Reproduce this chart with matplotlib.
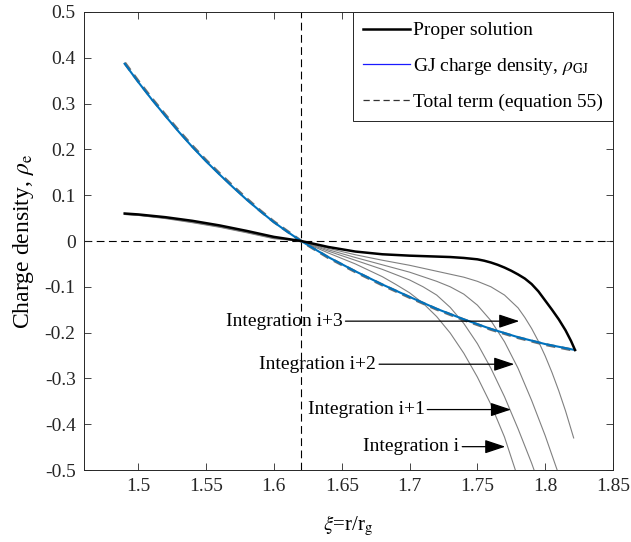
import numpy as np
import matplotlib
matplotlib.use("Agg")
import matplotlib.pyplot as plt
from matplotlib.lines import Line2D

# ── Data ──────────────────────────────────────────────────────────────────────
xi_gj  = [1.49, 1.50, 1.51, 1.52, 1.53, 1.54, 1.55, 1.56, 1.57, 1.58, 1.59, 1.60,
          1.61, 1.62, 1.64, 1.66, 1.68, 1.70, 1.72, 1.74, 1.76, 1.78, 1.80, 1.822]
rho_gj = [0.387, 0.347, 0.309, 0.273, 0.238, 0.205, 0.174, 0.145, 0.117, 0.090,
          0.065, 0.041, 0.020, 0.000, -0.035, -0.066, -0.095, -0.122, -0.148,
          -0.171, -0.192, -0.210, -0.225, -0.238]
# total term (equation 55) sits on top of the GJ curve
rho_tot = [0.389, 0.349, 0.311, 0.275, 0.240, 0.207, 0.176, 0.147, 0.119, 0.092,
           0.066, 0.042, 0.021, 0.000, -0.036, -0.067, -0.096, -0.123, -0.149,
           -0.172, -0.193, -0.211, -0.226, -0.239]

xi_prop  = [1.49, 1.50, 1.52, 1.54, 1.56, 1.58, 1.60, 1.62, 1.64, 1.66, 1.68, 1.70,
            1.72, 1.73, 1.74, 1.75, 1.755, 1.76, 1.765, 1.77, 1.775, 1.78, 1.785,
            1.79, 1.795, 1.80, 1.805, 1.81, 1.815, 1.819, 1.822]
rho_prop = [0.060, 0.058, 0.052, 0.044, 0.034, 0.022, 0.009, 0.000, -0.013, -0.023,
            -0.029, -0.032, -0.034, -0.035, -0.037, -0.040, -0.043, -0.047, -0.052,
            -0.058, -0.065, -0.073, -0.082, -0.094, -0.110, -0.130, -0.150, -0.171,
            -0.195, -0.218, -0.238]

# integration runs (i, i+1, i+2, i+3)
xi_int_i  = [1.49, 1.50, 1.52, 1.54, 1.56, 1.58, 1.60, 1.62, 1.64, 1.65, 1.66, 1.67,
             1.68, 1.69, 1.70, 1.71, 1.72, 1.73, 1.74, 1.75, 1.76, 1.77, 1.778, 1.782]
rho_int_i = [0.058, 0.056, 0.049, 0.040, 0.030, 0.018, 0.005, 0.000, -0.026, -0.038,
             -0.050, -0.064, -0.078, -0.095, -0.113, -0.136, -0.165, -0.201, -0.245,
             -0.297, -0.357, -0.428, -0.500, -0.540]

xi_int_i1  = [1.49, 1.50, 1.52, 1.54, 1.56, 1.58, 1.60, 1.62, 1.64, 1.66, 1.68, 1.70,
              1.71, 1.72, 1.73, 1.74, 1.75, 1.76, 1.77, 1.78, 1.79, 1.796]
rho_int_i1 = [0.058, 0.056, 0.050, 0.041, 0.031, 0.019, 0.006, 0.000, -0.022, -0.042,
              -0.062, -0.085, -0.100, -0.118, -0.145, -0.180, -0.224, -0.278, -0.340,
              -0.410, -0.485, -0.535]

xi_int_i2  = [1.49, 1.50, 1.52, 1.54, 1.56, 1.58, 1.60, 1.62, 1.64, 1.66, 1.68, 1.70,
              1.72, 1.73, 1.74, 1.75, 1.76, 1.77, 1.78, 1.79, 1.80, 1.81]
rho_int_i2 = [0.059, 0.057, 0.050, 0.042, 0.032, 0.020, 0.007, 0.000, -0.019, -0.036,
              -0.052, -0.068, -0.088, -0.100, -0.116, -0.140, -0.174, -0.220, -0.278,
              -0.348, -0.425, -0.510]

xi_int_i3  = [1.49, 1.50, 1.52, 1.54, 1.56, 1.58, 1.60, 1.62, 1.64, 1.66, 1.68, 1.70,
              1.72, 1.74, 1.75, 1.76, 1.77, 1.78, 1.785, 1.79, 1.795, 1.80, 1.805,
              1.81, 1.815, 1.821]
rho_int_i3 = [0.059, 0.057, 0.051, 0.043, 0.033, 0.021, 0.008, 0.000, -0.016, -0.030,
              -0.042, -0.053, -0.066, -0.079, -0.088, -0.100, -0.118, -0.146, -0.167,
              -0.191, -0.219, -0.251, -0.287, -0.327, -0.371, -0.430]

int_x = [xi_int_i, xi_int_i1, xi_int_i2, xi_int_i3]
int_y = [rho_int_i, rho_int_i1, rho_int_i2, rho_int_i3]

# annotation labels: (text, text end x, arrow tip x, y)
ann_labels = ["Integration i+3", "Integration i+2", "Integration i+1", "Integration i"]
ann_text_x = [1.6507, 1.6755, 1.711, 1.7368]
ann_tip_x  = [1.7809, 1.7772, 1.7748, 1.7706]
ann_y      = [-0.175, -0.269, -0.368, -0.449]

xi_ref  = 1.62
x_ticks = [1.5, 1.55, 1.6, 1.65, 1.7, 1.75, 1.8, 1.85]
y_ticks = [-0.5, -0.4, -0.3, -0.2, -0.1, 0, 0.1, 0.2, 0.3, 0.4, 0.5]

# ── Style ─────────────────────────────────────────────────────────────────────
plt.rcParams["font.family"] = ["Liberation Serif", "DejaVu Serif"]
plt.rcParams["mathtext.fontset"] = "stix"
BLUE   = "#0072BD"
GREY   = "#808080"
AXCOL  = "#262626"

fig = plt.figure(figsize=(6.31, 5.42), dpi=100)
ax = fig.add_axes([0.1331, 0.1328, 0.9715 - 0.1331, 0.9779 - 0.1328])

# reference lines
ax.axvline(xi_ref, color="black", lw=0.8, linestyle=(0, (7, 4)), zorder=1)
ax.axhline(0, color="black", lw=0.8, linestyle=(0, (7, 4)), zorder=1)

for xs, ys in zip(int_x, int_y):
    ax.plot(xs, ys, color=GREY, lw=0.8, zorder=2)

ax.plot(xi_gj, rho_tot, color="#707070", lw=2.2, linestyle=(0, (3, 2)), zorder=3)
ax.plot(xi_gj, rho_gj, color=BLUE, lw=1.5, zorder=4)
ax.plot(xi_prop, rho_prop, color="black", lw=1.8, zorder=5)

for lab, tx, px, y in zip(ann_labels, ann_text_x, ann_tip_x, ann_y):
    ax.annotate(lab, xy=(px, y), xytext=(tx, y), ha="right", va="center",
                fontsize=14, color="black", zorder=6,
                arrowprops=dict(arrowstyle="-|>,head_length=0.9,head_width=0.3",
                                mutation_scale=14, color="black", lw=0.9,
                                shrinkA=0, shrinkB=0))

ax.set_xlim(1.46, 1.85)
ax.set_ylim(-0.5, 0.5)
ax.set_xticks(x_ticks)
ax.set_xticklabels([f"{v:g}" for v in x_ticks])
ax.set_yticks(y_ticks)
ax.set_yticklabels([f"{v:g}" for v in y_ticks])
ax.tick_params(direction="in", length=5, width=0.6, top=True, right=True,
               labelsize=14, colors=AXCOL, pad=6)
for s in ax.spines.values():
    s.set_color(AXCOL)
    s.set_linewidth(0.7)

ax.set_xlabel(r"$\xi$=r/r$_{\rm g}$", fontsize=15, labelpad=13)
ax.set_ylabel(r"Charge density, $\rho_{\rm e}$", fontsize=17, labelpad=6)

handles = [
    Line2D([], [], color="black", lw=1.8),
    Line2D([], [], color="#1a1aff", lw=0.9),
    Line2D([], [], color="#333333", lw=0.9, linestyle=(0, (5, 3))),
]
labels = ["Proper solution", r"GJ charge density, $\rho_{\rm GJ}$",
          "Total term (equation 55)"]
leg = ax.legend(handles, labels, loc="upper right", fontsize=14, frameon=True,
                fancybox=False, framealpha=1, edgecolor=AXCOL, borderaxespad=0,
                handlelength=2.4, handletextpad=0.2, labelspacing=0.85,
                borderpad=0.5)
leg.get_frame().set_linewidth(0.7)

fig.savefig("out.png", dpi=100)
